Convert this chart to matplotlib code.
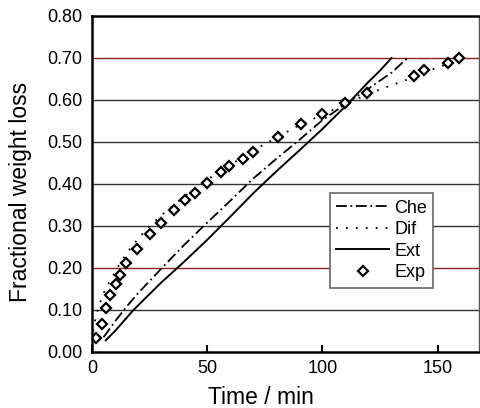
import matplotlib.pyplot as plt

plt.rcParams['font.family'] = ['Liberation Sans', 'DejaVu Sans']

# experimental points
exp_t = [1.6, 4.2, 6.1, 8.0, 10.3, 12.1, 14.8, 19.7, 25.3, 30.1, 35.8, 40.4, 44.8,
         49.9, 56.0, 59.4, 65.4, 69.7, 80.9, 90.8, 99.9, 109.7, 119.2, 139.6, 144.0,
         154.6, 159.3]
exp_y = [0.033, 0.067, 0.105, 0.135, 0.161, 0.183, 0.212, 0.246, 0.280, 0.308, 0.338,
         0.362, 0.379, 0.402, 0.428, 0.443, 0.460, 0.475, 0.511, 0.543, 0.567, 0.594,
         0.616, 0.657, 0.671, 0.687, 0.699]

# model curves
che_t = [5, 10, 15, 20, 30, 40, 50, 60, 70, 80, 90, 100, 110, 120, 130, 137]
che_y = [0.035, 0.073, 0.108, 0.14, 0.198, 0.255, 0.308, 0.36, 0.413, 0.46, 0.505,
         0.552, 0.59, 0.627, 0.665, 0.70]

dif_t = [0.5, 1, 3, 5, 8, 10, 12, 15, 20, 25, 30, 40, 50, 60, 70, 80, 90, 100, 110,
         120, 130, 140, 150, 163]
dif_y = [0.05, 0.068, 0.11, 0.14, 0.172, 0.19, 0.21, 0.235, 0.27, 0.30, 0.325, 0.37,
         0.41, 0.445, 0.48, 0.51, 0.54, 0.565, 0.59, 0.615, 0.635, 0.655, 0.678, 0.70]

ext_t = [6, 10, 18, 30, 40, 50, 60, 70, 80, 90, 100, 110, 120, 125, 130]
ext_y = [0.028, 0.05, 0.10, 0.165, 0.215, 0.267, 0.322, 0.378, 0.43, 0.48, 0.531,
         0.585, 0.643, 0.67, 0.70]

y_ticks = [0.0, 0.1, 0.2, 0.3, 0.4, 0.5, 0.6, 0.7, 0.8]
x_ticks = [0, 50, 100, 150]

fig = plt.figure(figsize=(4.8, 4.08), dpi=100)
ax = fig.add_axes([0.1917, 0.1373, 0.8063, 0.8235])

# horizontal grid lines (some reddish)
for yv in y_ticks[1:-1]:
    col = '#8a2424' if yv in (0.2, 0.7) else '#3a3030'
    ax.axhline(yv, color=col, lw=1.0, zorder=0)

ax.plot(che_t, che_y, color='black', lw=1.3, dashes=(6, 2, 1, 2), label='Che')
ax.plot(dif_t, dif_y, color='black', lw=1.3, dashes=(1, 4.5), label='Dif')
ax.plot(ext_t, ext_y, color='black', lw=1.4, label='Ext')
ax.plot(exp_t, exp_y, linestyle='none', marker='D', ms=5, mfc='white', mec='black',
        mew=1.6, label='Exp')

ax.set_xlim(0, 168)
ax.set_ylim(0, 0.8)
ax.set_xticks(x_ticks)
ax.set_yticks(y_ticks)
ax.set_yticklabels([f"{v:.2f}" for v in y_ticks])
ax.tick_params(axis='x', direction='in', length=5, width=1.5, pad=6, labelsize=13)
ax.tick_params(axis='y', length=0, pad=7, labelsize=13)

for side in ['left', 'bottom', 'top']:
    ax.spines[side].set_linewidth(1.8)
ax.spines['right'].set_linewidth(1.0)
ax.spines['right'].set_color('#555555')

ax.set_xlabel("Time / min", fontsize=16.5)
ax.set_ylabel("Fractional weight loss", fontsize=16.5)
ax.xaxis.set_label_coords(0.437, -0.1)
ax.yaxis.set_label_coords(-0.155, 0.476)

leg = ax.legend(loc='upper left', bbox_to_anchor=(0.615, 0.472), borderaxespad=0,
                fontsize=13, handlelength=2.9, handletextpad=0.3, labelspacing=0.25,
                borderpad=0.35, fancybox=False, framealpha=1)
leg.get_frame().set_edgecolor('#666666')
leg.get_frame().set_linewidth(1.2)

fig.savefig("out.png", dpi=100)
